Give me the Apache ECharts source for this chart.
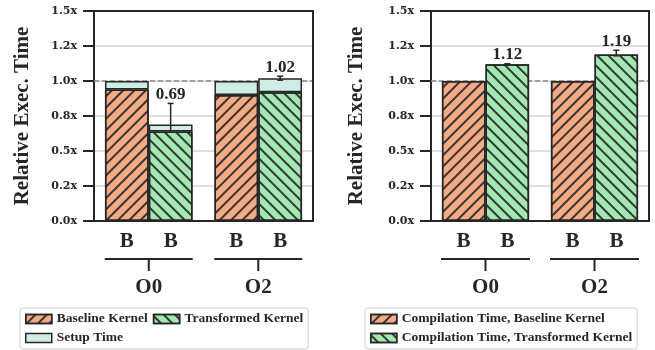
<!DOCTYPE html>
<html><head><meta charset="utf-8">
<script src="https://cdn.jsdelivr.net/npm/echarts@6/dist/echarts.min.js"></script>
<style>html,body{margin:0;padding:0;background:#fff}#c{width:655px;height:350px}</style>
</head><body><div id="c"></div>
<script>
// ---------- data ----------
const categories = ['O0', 'O2'];
const barLabel = 'B';
const yTickLabels = ['0.0x', '0.2x', '0.5x', '0.8x', '1.0x', '1.2x', '1.5x'];
const refLine = 1.0;

// left panel: relative execution time
const leftBaselineKernel = [0.94, 0.90];
const leftBaselineSetup = [0.06, 0.10];
const leftTransKernel = [0.64, 0.92];
const leftTransSetup = [0.05, 0.10];
const leftTransTotal = [0.69, 1.02];
const leftErrLow = [0.54, 1.006];
const leftErrHigh = [0.84, 1.034];

// right panel: compilation time
const rightBaseline = [1.00, 1.00];
const rightTrans = [1.12, 1.19];
const rightErrLow = [1.117, 1.18];
const rightErrHigh = [1.123, 1.22];

// ---------- style ----------
const INK = '#262626';
const ORANGE = '#f2ab85';
const GREEN = '#a3e8b3';
const MINT = '#d1ede3';
const SERIF = '"Liberation Serif", "DejaVu Serif", serif';
const hatchF = { symbol: 'rect', dashArrayX: [1, 0], dashArrayY: [1.1, 5.8], rotation: 3 * Math.PI / 4, color: 'rgba(38,38,38,0.9)', symbolSize: 1 };
const hatchB = { symbol: 'rect', dashArrayX: [1, 0], dashArrayY: [1.1, 5.7], rotation: Math.PI / 4, color: 'rgba(38,38,38,0.9)', symbolSize: 1 };

function xAxisFor(gi, lineW) {
  return {
    type: 'category', gridIndex: gi, data: categories,
    axisLine: { show: true, lineStyle: { color: INK, width: 2 } },
    axisTick: { show: false },
    axisLabel: {
      interval: 0, margin: 9,
      formatter: v => `{b|${barLabel}}{b|${barLabel}}\n{gap|}\n{hl|}\n{vt|}\n{gap2|}\n{g|${v}}`,
      rich: {
        b: { width: 44, align: 'center', fontSize: 21, fontWeight: 'bold', fontFamily: SERIF, color: INK, lineHeight: 24 },
        gap: { height: 4, lineHeight: 4 },
        hl: { width: lineW, height: 2, lineHeight: 2, backgroundColor: INK },
        vt: { width: 2, height: 11, lineHeight: 11, backgroundColor: INK },
        gap2: { height: 5, lineHeight: 5 },
        g: { fontSize: 21, fontWeight: 'bold', fontFamily: SERIF, color: INK, lineHeight: 24 }
      }
    }
  };
}
function frameX(gi) {
  return { type: 'value', gridIndex: gi, position: 'top', min: 0, max: 1, z: 5,
    axisLine: { show: true, onZero: false, lineStyle: { color: INK, width: 2 } },
    axisTick: { show: false }, axisLabel: { show: false }, splitLine: { show: false } };
}
function frameY(gi) {
  return { type: 'value', gridIndex: gi, position: 'right', min: 0, max: 1.5, z: 5,
    axisLine: { show: true, onZero: false, lineStyle: { color: INK, width: 2 } },
    axisTick: { show: false }, axisLabel: { show: false }, splitLine: { show: false } };
}
function yAxisFor(gi, gap) {
  return {
    type: 'value', gridIndex: gi, min: 0, max: 1.5, interval: 0.25,
    axisLine: { show: true, lineStyle: { color: INK, width: 2 } },
    axisTick: { show: true, length: 11, lineStyle: { color: INK, width: 2 } },
    axisLabel: {
      margin: 17, color: INK, fontFamily: '"DejaVu Serif", serif', fontWeight: 'bold', fontSize: 11,
      formatter: v => yTickLabels[Math.round(v / 0.25)]
    },
    splitLine: { show: true, lineStyle: { color: '#d4d4d4', width: 1.5 } },
    name: 'Relative Exec. Time', nameLocation: 'middle', nameGap: gap,
    nameTextStyle: { fontFamily: SERIF, fontWeight: 'bold', fontSize: 21, color: INK }
  };
}
function barStyle(color, decal) {
  const s = { color: color, borderColor: INK, borderWidth: 1.5 };
  if (decal) s.decal = decal;
  return s;
}
function errSeries(gi, low, high, labels, z) {
  return {
    type: 'custom', xAxisIndex: gi, yAxisIndex: gi, z: z, silent: true,
    data: categories.map((c, i) => [i, low[i], high[i], labels[i]]),
    renderItem: (params, api) => {
      const i = api.value(0);
      const lo = api.coord([i, api.value(1)]);
      const hi = api.coord([i, api.value(2)]);
      const band = api.size([1, 0])[0];
      const x = lo[0] + band * 0.2;
      const ls = { stroke: INK, lineWidth: 1.5 };
      return {
        type: 'group', children: [
          { type: 'line', shape: { x1: x, y1: lo[1], x2: x, y2: hi[1] }, style: ls },
          { type: 'line', shape: { x1: x - 3, y1: hi[1], x2: x + 3, y2: hi[1] }, style: ls },
          { type: 'line', shape: { x1: x - 3, y1: lo[1], x2: x + 3, y2: lo[1] }, style: ls },
          { type: 'text', style: { text: Number(api.value(3)).toFixed(2), x: x, y: hi[1] - 9, align: 'center', verticalAlign: 'middle',
              fontFamily: SERIF, fontWeight: 'bold', fontSize: 17, fill: INK } }
        ]
      };
    }
  };
}
const markRef = {
  silent: true, symbol: 'none', z: 1, label: { show: false },
  lineStyle: { type: [5, 3], color: '#8a8a8a', width: 1.5 },
  data: [{ yAxis: refLine }]
};
const legendCommon = {
  itemWidth: 26, itemHeight: 9, itemGap: 5, padding: [4, 5, 4, 5],
  borderColor: '#cfcfcf', borderWidth: 1, borderRadius: 3, icon: 'rect', selectedMode: false,
  itemStyle: { borderColor: INK, borderWidth: 1.5 },
  textStyle: { fontFamily: SERIF, fontWeight: 'bold', fontSize: 13.5, color: INK, lineHeight: 14 }
};

const option = {
  animation: false,
  backgroundColor: '#fff',
  grid: [
    { left: 94, right: 342, top: 11, bottom: 129 },
    { left: 431, right: 6, top: 11, bottom: 129 }
  ],
  xAxis: [xAxisFor(0, 88), xAxisFor(1, 89), frameX(0), frameX(1)],
  yAxis: [yAxisFor(0, 61), yAxisFor(1, 64), frameY(0), frameY(1)],
  legend: [
    Object.assign({}, legendCommon, { data: ['Baseline Kernel', 'Transformed Kernel', 'Setup Time'], left: 20, top: 308, width: 292 }),
    Object.assign({}, legendCommon, { data: ['Compilation Time, Baseline Kernel', 'Compilation Time, Transformed Kernel'], orient: 'vertical', left: 365, top: 308 })
  ],
  series: [
    { name: 'Baseline Kernel', type: 'bar', xAxisIndex: 0, yAxisIndex: 0, stack: 'lb', data: leftBaselineKernel,
      barWidth: '40%', barGap: '0%', z: 3, itemStyle: barStyle(ORANGE, hatchF), markLine: markRef },
    { name: 'Setup Time', type: 'bar', xAxisIndex: 0, yAxisIndex: 0, stack: 'lb', data: leftBaselineSetup,
      barWidth: '40%', barGap: '0%', z: 2, itemStyle: barStyle(MINT) },
    { name: 'Transformed Kernel', type: 'bar', xAxisIndex: 0, yAxisIndex: 0, stack: 'lt', data: leftTransKernel,
      barWidth: '40%', barGap: '0%', z: 3, itemStyle: barStyle(GREEN, hatchB) },
    { name: 'Setup Time', type: 'bar', xAxisIndex: 0, yAxisIndex: 0, stack: 'lt', data: leftTransSetup,
      barWidth: '40%', barGap: '0%', z: 2, itemStyle: barStyle(MINT) },
    errSeries(0, leftErrLow, leftErrHigh, leftTransTotal, 2.5),
    { name: 'Compilation Time, Baseline Kernel', type: 'bar', xAxisIndex: 1, yAxisIndex: 1, data: rightBaseline,
      barWidth: '40%', barGap: '0%', z: 3, itemStyle: barStyle(ORANGE, hatchF), markLine: markRef },
    { name: 'Compilation Time, Transformed Kernel', type: 'bar', xAxisIndex: 1, yAxisIndex: 1, data: rightTrans,
      barWidth: '40%', barGap: '0%', z: 3, itemStyle: barStyle(GREEN, hatchB) },
    errSeries(1, rightErrLow, rightErrHigh, rightTrans, 4)
  ]
};
const chart = echarts.init(document.getElementById('c'), null, { renderer: 'canvas', width: 655, height: 350 });
chart.setOption(option);
</script>
</body></html>
